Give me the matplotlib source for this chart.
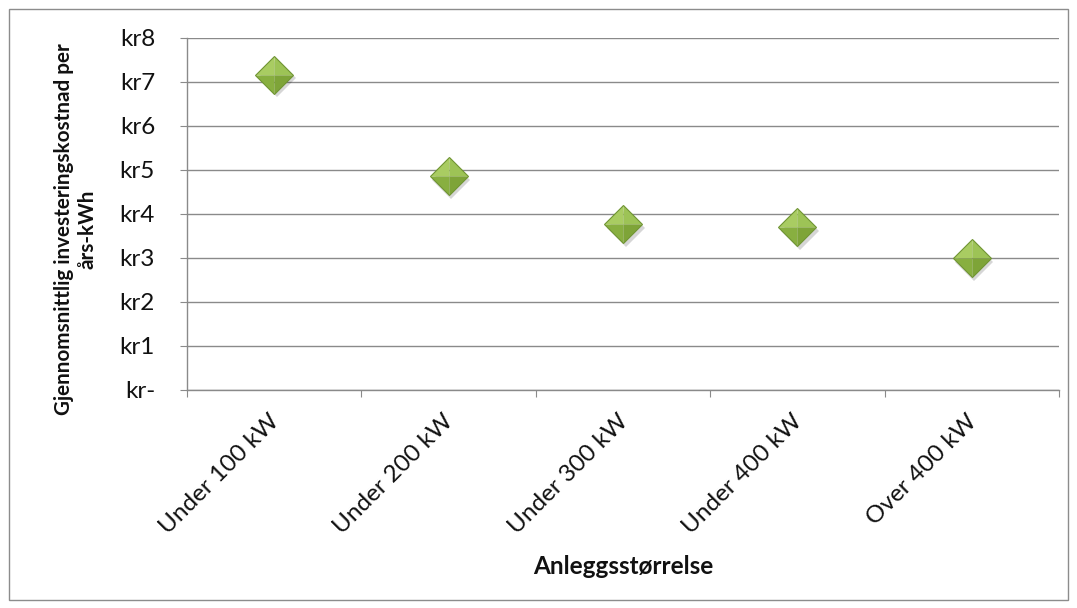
import matplotlib
matplotlib.use("Agg")
import matplotlib.pyplot as plt
from matplotlib.patches import Rectangle
from matplotlib.ticker import FixedLocator, NullFormatter
from matplotlib.transforms import ScaledTranslation

plt.rcParams['font.family'] = ['Lato', 'DejaVu Sans']

categories = ["Under 100 kW", "Under 200 kW", "Under 300 kW", "Under 400 kW", "Over 400 kW"]
cost_per_kwh = [7.17, 4.86, 3.77, 3.70, 3.00]
y_ticks = [0, 1, 2, 3, 4, 5, 6, 7, 8]
y_tick_labels = ["kr-", "kr1", "kr2", "kr3", "kr4", "kr5", "kr6", "kr7", "kr8"]

W, H = 1077, 608
fig = plt.figure(figsize=(W / 100, H / 100), dpi=100)
fig.patch.set_facecolor("white")

# outer chart border
fig.patches.append(Rectangle((8.5 / W, 8.5 / H), (1068 - 8.5) / W, (599 - 8.5) / H,
                             transform=fig.transFigure, fill=False,
                             edgecolor="#8c8c8c", linewidth=1.0))

ax = fig.add_axes([187 / W, 1 - 390 / H, (1059 - 187) / W, (390 - 38) / H])
ax.set_xlim(-0.5, len(categories) - 0.5)
ax.set_ylim(0, 8)

grid_c = "#8a8a8a"
txt_c = "#111111"
for s in ["top", "right"]:
    ax.spines[s].set_visible(False)
for s in ["left", "bottom"]:
    ax.spines[s].set_color(grid_c)
    ax.spines[s].set_linewidth(1.0)

ax.set_yticks(y_ticks)
ax.set_yticklabels(y_tick_labels, fontsize=17.5, color=txt_c)
ax.yaxis.grid(True, color=grid_c, linewidth=1.0)
ax.set_axisbelow(True)
ax.tick_params(axis="y", length=5, color=grid_c, pad=18)

# category boundary ticks, labels at category centres
xs = list(range(len(categories)))
ax.xaxis.set_major_locator(FixedLocator([i - 0.5 for i in range(len(categories) + 1)]))
ax.xaxis.set_major_formatter(NullFormatter())
ax.xaxis.set_minor_locator(FixedLocator(xs))
ax.set_xticklabels(categories, minor=True, fontsize=17.5, color=txt_c,
                   rotation=45, ha="right", rotation_mode="anchor")
ax.tick_params(axis="x", which="major", length=5, color=grid_c)
ax.tick_params(axis="x", which="minor", length=0, pad=15)
shift = ScaledTranslation(-6 / 100, 0, fig.dpi_scale_trans)
for lab in ax.get_xticklabels(minor=True):
    lab.set_transform(lab.get_transform() + shift)

# bevelled diamond markers: soft shadow, then four shaded facets
ms = 27
ax.plot([x + 0.015 for x in xs], [v - 0.08 for v in cost_per_kwh], ls="none",
        marker="D", markersize=ms * 0.70, color="#000000", alpha=0.16,
        markeredgewidth=0, zorder=3)
facets = [
    ([(-1, 0), (0, 1), (0, 0)], "#a9cc62"),   # top-left
    ([(0, 1), (1, 0), (0, 0)], "#9dc356"),    # top-right
    ([(-1, 0), (0, -1), (0, 0)], "#88af40"),  # bottom-left
    ([(0, -1), (1, 0), (0, 0)], "#7ea438"),   # bottom-right
]
for verts, col in facets:
    ax.plot(xs, cost_per_kwh, ls="none", marker=verts, markersize=ms,
            color=col, markeredgewidth=0, zorder=4)
ax.plot(xs, cost_per_kwh, ls="none", marker="D", markersize=ms * 0.707,
        markerfacecolor="none", markeredgecolor="#6e9430", markeredgewidth=0.8,
        zorder=5)

fig.text(76 / W, 1 - 229 / H, "Gjennomsnittlig investeringskostnad per\nårs-kWh",
         rotation=90, ha="center", va="center", fontsize=14.9, fontweight="bold",
         color=txt_c, linespacing=1.2)
fig.text(623 / W, 1 - 566 / H, "Anleggsstørrelse", ha="center", va="center",
         fontsize=17.5, fontweight="bold", color=txt_c)

fig.savefig("out.png", dpi=100, facecolor="white")
